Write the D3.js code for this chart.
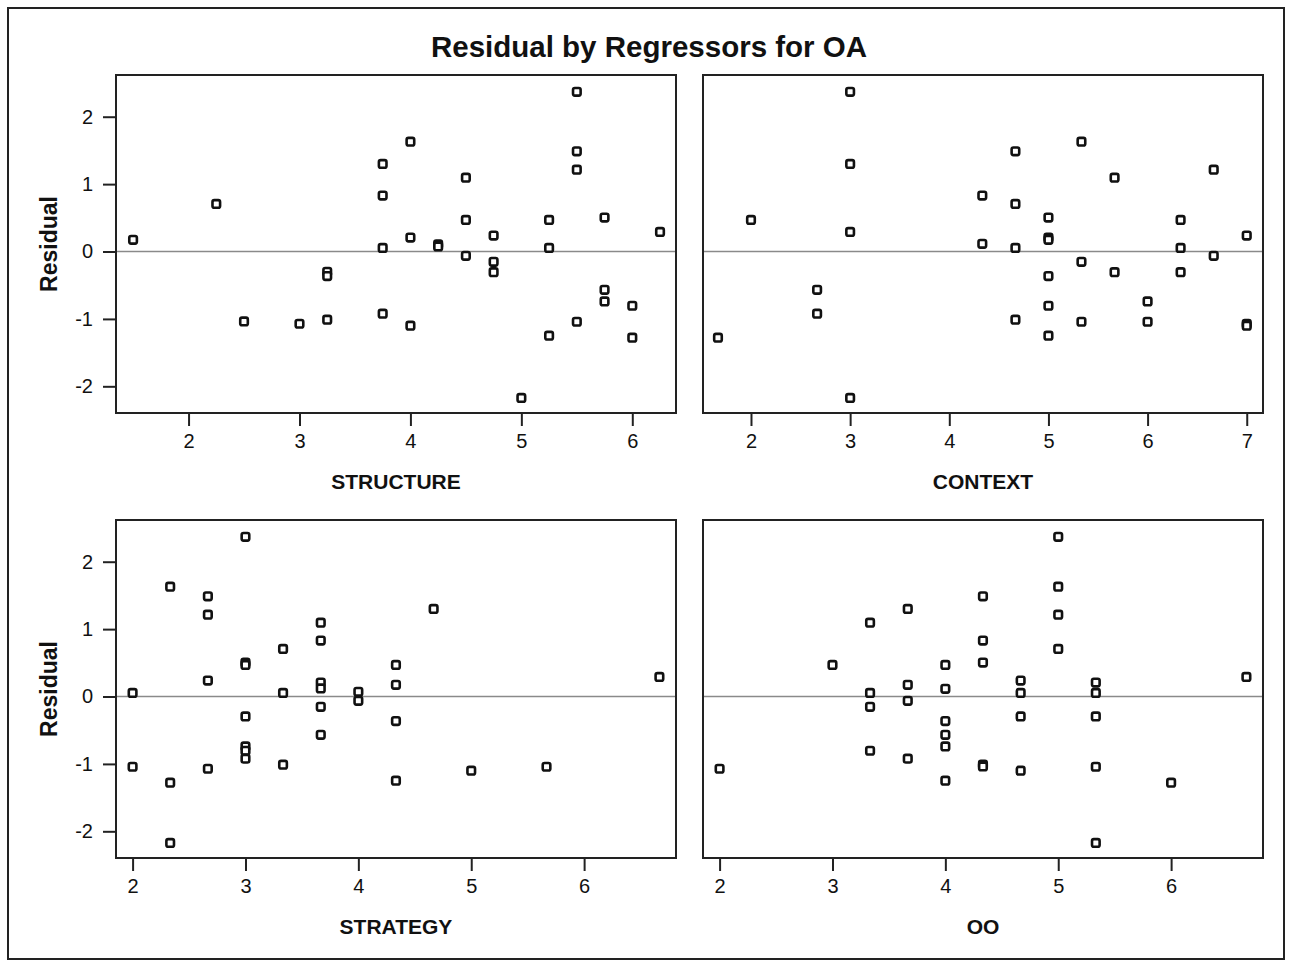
<!DOCTYPE html>
<html>
<head>
<meta charset="utf-8">
<script src="https://cdn.jsdelivr.net/npm/d3@7"></script>
<style>
  html, body { margin: 0; padding: 0; background: #fff; }
  svg { display: block; }
  text { font-family: "Liberation Sans", Arial, sans-serif; fill: #111; }
</style>
</head>
<body>
<svg id="chart" width="1292" height="965"></svg>
<script>
// Residuals of the OA model plotted against each regressor: [regressor value, residual]
const structure = [
  [1.5, 0.173], [2.25, 0.706], [2.5, -1.037], [3, -1.072],
  [3.25, -0.30], [3.25, -0.365], [3.25, -1.012],
  [3.75, 1.30], [3.75, 0.83], [3.75, 0.054], [3.75, -0.923],
  [4, 1.63], [4, 0.207], [4, -1.101],
  [4.25, 0.105], [4.25, 0.075],
  [4.5, 1.096], [4.5, 0.469], [4.5, -0.064],
  [4.75, 0.237], [4.75, -0.153], [4.75, -0.306],
  [5, -2.173],
  [5.25, 0.469], [5.25, 0.054], [5.25, -1.249],
  [5.5, 2.37], [5.5, 1.486], [5.5, 1.215], [5.5, -1.042],
  [5.75, 0.504], [5.75, -0.568], [5.75, -0.741],
  [6, -0.805], [6, -1.279],
  [6.25, 0.291]
];

const context = [
  [1.667, -1.279], [2, 0.469],
  [2.667, -0.568], [2.667, -0.923],
  [3, 2.37], [3, 1.30], [3, 0.291], [3, -2.173],
  [4.333, 0.83], [4.333, 0.114],
  [4.667, 1.486], [4.667, 0.706], [4.667, 0.054], [4.667, -1.012],
  [5, 0.504], [5, 0.207], [5, 0.173], [5, -0.365], [5, -0.805], [5, -1.249],
  [5.333, 1.63], [5.333, -0.153], [5.333, -1.042],
  [5.667, 1.096], [5.667, -0.306],
  [6, -0.741], [6, -1.042],
  [6.333, 0.469], [6.333, 0.054], [6.333, -0.306],
  [6.667, 1.215], [6.667, -0.064],
  [7, 0.237], [7, -1.072], [7, -1.101]
];

const strategy = [
  [2, 0.054], [2, -1.042],
  [2.333, 1.63], [2.333, -1.279], [2.333, -2.173],
  [2.667, 1.486], [2.667, 1.215], [2.667, 0.237], [2.667, -1.072],
  [3, 2.37], [3, 0.504], [3, 0.469], [3, -0.296], [3, -0.741], [3, -0.805], [3, -0.923],
  [3.333, 0.706], [3.333, 0.054], [3.333, -1.012],
  [3.667, 1.096], [3.667, 0.83], [3.667, 0.207], [3.667, 0.12], [3.667, -0.153], [3.667, -0.568],
  [4, 0.07], [4, -0.064],
  [4.333, 0.469], [4.333, 0.173], [4.333, -0.365], [4.333, -1.249],
  [4.667, 1.30], [5, -1.101], [5.667, -1.042], [6.667, 0.291]
];

const oo = [
  [2, -1.072], [3, 0.469],
  [3.333, 1.096], [3.333, 0.054], [3.333, -0.153], [3.333, -0.805],
  [3.667, 1.30], [3.667, 0.173], [3.667, -0.064], [3.667, -0.923],
  [4, 0.469], [4, 0.114], [4, -0.365], [4, -0.568], [4, -0.741], [4, -1.249],
  [4.333, 1.486], [4.333, 0.83], [4.333, 0.504], [4.333, -1.012], [4.333, -1.037],
  [4.667, 0.237], [4.667, 0.054], [4.667, -0.296], [4.667, -1.101],
  [5, 2.37], [5, 1.63], [5, 1.215], [5, 0.706],
  [5.333, 0.207], [5.333, 0.054], [5.333, -0.296], [5.333, -1.042], [5.333, -2.173],
  [6, -1.279], [6.667, 0.291]
];

// Tick labels
const residualTicks = [-2, -1, 0, 1, 2];
const structureTicks = [2, 3, 4, 5, 6];
const contextTicks = [2, 3, 4, 5, 6, 7];
const strategyTicks = [2, 3, 4, 5, 6];
const ooTicks = [2, 3, 4, 5, 6];

const titleText = "Residual by Regressors for OA";
const yTitle = "Residual";

// Panel layout (pixel boxes and axis extents)
const residualDomain = [-2.396, 2.619];
const panels = [
  { label: "STRUCTURE", data: structure, ticks: structureTicks, xDomain: [1.346, 6.394],
    box: { left: 116, right: 676, top: 75, bottom: 413 }, yAxis: true },
  { label: "CONTEXT", data: context, ticks: contextTicks, xDomain: [1.516, 7.164],
    box: { left: 703, right: 1263, top: 75, bottom: 413 }, yAxis: false },
  { label: "STRATEGY", data: strategy, ticks: strategyTicks, xDomain: [1.853, 6.814],
    box: { left: 116, right: 676, top: 520, bottom: 858 }, yAxis: true },
  { label: "OO", data: oo, ticks: ooTicks, xDomain: [1.853, 6.814],
    box: { left: 703, right: 1263, top: 520, bottom: 858 }, yAxis: false }
];

// plain hyphen-minus for negative tick labels
const tickFmt = d => String(d);

const svg = d3.select("#chart");

// outer frame
svg.append("rect")
  .attr("x", 8).attr("y", 8).attr("width", 1276).attr("height", 951)
  .attr("fill", "none").attr("stroke", "#222").attr("stroke-width", 2);

svg.append("text")
  .attr("x", 649).attr("y", 57)
  .attr("text-anchor", "middle")
  .style("font-size", "29.5px").style("font-weight", "bold")
  .text(titleText);

panels.forEach(p => {
  const b = p.box;
  const x = d3.scaleLinear().domain(p.xDomain).range([b.left, b.right]);
  const y = d3.scaleLinear().domain(residualDomain).range([b.bottom, b.top]);
  const g = svg.append("g");

  // zero reference line
  g.append("line")
    .attr("x1", b.left).attr("x2", b.right)
    .attr("y1", y(0)).attr("y2", y(0))
    .attr("stroke", "#8a8a8a").attr("stroke-width", 1.5);

  // x axis
  const xAxis = d3.axisBottom(x).tickValues(p.ticks).tickSize(13).tickPadding(8)
    .tickFormat(tickFmt);
  const gx = g.append("g").attr("transform", `translate(0,${b.bottom})`).call(xAxis);
  gx.select(".domain").remove();
  gx.selectAll(".tick line").attr("stroke", "#222").attr("stroke-width", 2);
  gx.selectAll(".tick text")
    .style("font-size", "20px").style("font-family", "'Liberation Sans', Arial, sans-serif")
    .attr("fill", "#222");

  // y axis
  if (p.yAxis) {
    const yAxis = d3.axisLeft(y).tickValues(residualTicks).tickSize(13).tickPadding(10)
      .tickFormat(tickFmt);
    const gy = g.append("g").attr("transform", `translate(${b.left},0)`).call(yAxis);
    gy.select(".domain").remove();
    gy.selectAll(".tick line").attr("stroke", "#222").attr("stroke-width", 2);
    gy.selectAll(".tick text")
      .style("font-size", "20px").style("font-family", "'Liberation Sans', Arial, sans-serif")
      .attr("fill", "#222");

    g.append("text")
      .attr("transform", `translate(57,${(b.top + b.bottom) / 2}) rotate(-90)`)
      .attr("text-anchor", "middle")
      .style("font-size", "23px").style("font-weight", "bold")
      .text(yTitle);
  }

  // x axis title
  g.append("text")
    .attr("x", (b.left + b.right) / 2).attr("y", b.bottom + 76)
    .attr("text-anchor", "middle")
    .style("font-size", "21px").style("font-weight", "bold")
    .text(p.label);

  // panel frame
  g.append("rect")
    .attr("x", b.left).attr("y", b.top)
    .attr("width", b.right - b.left).attr("height", b.bottom - b.top)
    .attr("fill", "none").attr("stroke", "#222").attr("stroke-width", 2);

  // residual markers
  g.selectAll("rect.pt").data(p.data).join("rect")
    .attr("class", "pt")
    .attr("x", d => x(d[0]) - 3.8).attr("y", d => y(d[1]) - 3.8)
    .attr("width", 7.6).attr("height", 7.6).attr("rx", 1.8)
    .attr("fill", "#fff").attr("stroke", "#111").attr("stroke-width", 2.6);
});
</script>
</body>
</html>
